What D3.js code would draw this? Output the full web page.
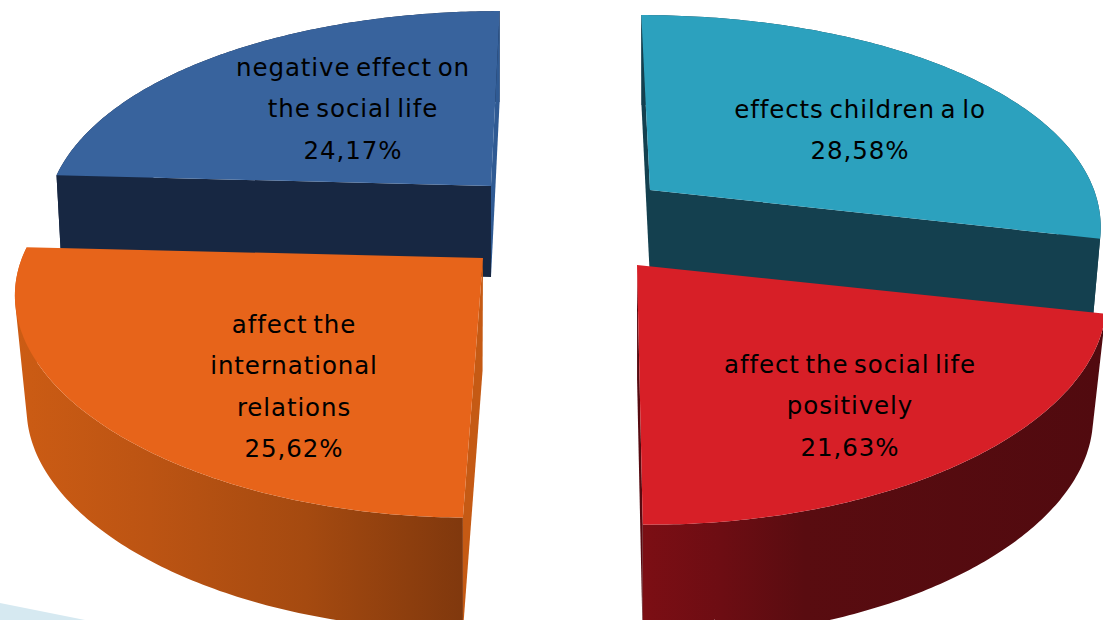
<!DOCTYPE html>
<html>
<head>
<meta charset="utf-8">
<script src="https://cdn.jsdelivr.net/npm/d3@7"></script>
<style>
html,body{margin:0;padding:0;background:#fff;overflow:hidden}
svg{display:block}
text{font-family:"DejaVu Sans",sans-serif;font-size:24.5px;fill:#000;text-anchor:middle;letter-spacing:.9px;word-spacing:-3px}
</style>
</head>
<body>
<svg id="c" width="1103" height="620"></svg>
<script>
// Data, clockwise from twelve o'clock
const categories = ["effects children a lo","affect the social life positively","affect the international relations","negative effect on the social life"];
const shares = [28.58,21.63,25.62,24.17];
const valueLabels = ["28,58%","21,63%","25,62%","24,17%"];
const labelLines = [
  ["effects children a lo"],
  ["affect the social life","positively"],
  ["affect the","international","relations"],
  ["negative effect on","the social life"]
];

// Layout and style per slice
const layout = [
  {ax:650,ay:190,R:444,lean:10,h:90,vx:650,sq:.018,face:"#2CA1BE",inner:"#14404F",cap:"#14404F",capEnd:0,wall:[[0,"#14404F"],[1,"#14404F"]],lx:860,ly:118},
  {ax:637,ay:265,R:462,lean:11,h:115,vx:640,sq:.028,face:"#D71F27",inner:null,cap:"#570A10",capEnd:1,wall:[[0,"#7C0E14"],[.17,"#6D0D13"],[.35,"#590C10"],[1,"#510A0F"]],lx:850,ly:373},
  {ax:483,ay:258,R:461,lean:-11,h:113,vx:465,sq:.026,face:"#E7641A",inner:null,cap:"#C55A14",capEnd:0,wall:[[0,"#CC5C14"],[.3,"#BC5413"],[.65,"#A54A10"],[1,"#80380D"]],lx:294,ly:333},
  {ax:491,ay:186,R:439,lean:-10,h:91,vx:491,sq:.0115,face:"#38639D",inner:"#172742",cap:"#2F5A93",capEnd:1,wall:[[0,"#172742"],[1,"#172742"]],lx:353,ly:76}
];
const kx = .15, ky = .195, depth = 209, lineGap = 41.3;
const drawOrder = [3,0,2,1];

const svg = d3.select("#c");
const defs = svg.append("defs");
const pie = d3.pie().sort(null).value(d=>d);
const arcs = pie(shares);
const line = d3.line();

// background sliver in the lower-left corner
svg.append("path").attr("d",line([[0,603],[85,620],[0,620]])).attr("fill","#D6E9F1");

function project(a,s){
  const u=Math.sin(a), v=-Math.cos(a);
  return [s.ax+(s.R*u+s.lean*v)/(1-kx*v), s.ay+depth*v/(1-ky*v)];
}
const drop = (p,s)=>[s.vx+(p[0]-s.vx)*(1-s.sq), p[1]+s.h];

drawOrder.forEach(i=>{
  const s=layout[i], d=arcs[i];
  const angles=d3.range(0,121).map(t=>d.startAngle+(d.endAngle-d.startAngle)*t/120);
  const rim=angles.map(a=>project(a,s));
  const apex=[s.ax,s.ay];
  const g=svg.append("g").attr("class","slice");
  const xr=d3.extent(rim,p=>p[0]);
  const id="wall"+i;
  const lg=defs.append("linearGradient").attr("id",id).attr("gradientUnits","userSpaceOnUse")
    .attr("x1",xr[0]).attr("x2",xr[1]).attr("y1",0).attr("y2",0);
  s.wall.forEach(st=>lg.append("stop").attr("offset",st[0]).attr("stop-color",st[1]));
  // outer wall: the rim swept downward, one quad per rim step, all wound the same way
  const sweep=d3.pairs(rim).map(([a,b])=>{
    const q=[a,b,drop(b,s),drop(a,s)];
    if(d3.polygonArea(q)<0) q.reverse();
    return line(q)+"Z";
  }).join("");
  g.append("path").attr("d",sweep).attr("fill",`url(#${id})`);
  // cut walls: the one beside the gap, then the one below the face
  const capAt = s.capEnd ? rim[rim.length-1] : rim[0];
  const sideAt = s.capEnd ? rim[0] : rim[rim.length-1];
  g.append("path").attr("d",line([apex,capAt,drop(capAt,s),drop(apex,s)])+"Z").attr("fill",s.cap);
  if(s.inner) g.append("path").attr("d",line([apex,sideAt,drop(sideAt,s),drop(apex,s)])+"Z").attr("fill",s.inner);
  // top face
  g.append("path").attr("d",line([apex].concat(rim))+"Z").attr("fill",s.face);
  // label
  const rows=labelLines[i].concat([valueLabels[i]]);
  g.selectAll("text").data(rows).join("text")
    .attr("x",s.lx).attr("y",(r,j)=>s.ly+j*lineGap).text(r=>r);
});
</script>
</body>
</html>
